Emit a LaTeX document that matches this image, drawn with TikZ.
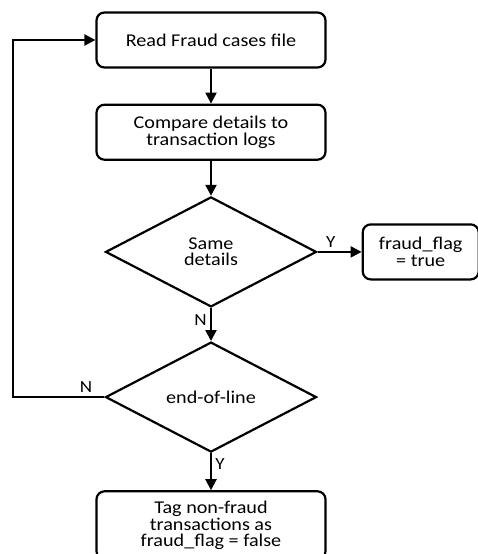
\documentclass[tikz,border=0pt]{standalone}
\usepackage{fontspec}
\setmainfont[FakeStretch=1.12]{Carlito}
\usetikzlibrary{positioning,shapes.geometric,arrows.meta}
\tikzset{main node/.style={rectangle,rounded corners=8pt,draw,line width=2.2pt,minimum width=229pt,minimum height=55pt,align=center,inner sep=2pt,font=\fontsize{18}{16.5}\selectfont},
         test node/.style={diamond,draw,line width=2.2pt,minimum width=211pt,minimum height=110pt,inner sep=0pt,align=center,font=\fontsize{18}{16.5}\selectfont},
         flow/.style={draw,line width=2.2pt,-{Triangle[length=11pt,width=11pt]}},
         lbl/.style={font=\fontsize{17}{17}\selectfont}}

\begin{document}
\begin{tikzpicture}[x=1pt,y=1pt]
            \useasboundingbox (0,0) rectangle (478,-554);
            \node[main node] (A) at (211,-40) {Read Fraud cases file};
            \node[main node] (B) [below = 35pt of A] {Compare details to\\transaction logs};
            \node[test node] (C) [below = 35pt of B] {Same\\details};
            \node[main node, minimum width=116pt] (D) [right = 44pt of C] {fraud\_flag\\= true};
            \node[test node] (E) [below = 33pt of C] {end-of-line};
            \node[main node, minimum height=68pt] (F) [below = 37pt of E] {Tag non-fraud\\transactions as\\fraud\_flag = false};
            \coordinate (L) at (13,0 |- E);

            \path[flow]
            (A) edge (B)
            (B) edge (C)
            (C) edge node[lbl,above,pos=0.3] {Y} (D)
            (C) edge node[lbl,left,pos=0.35] {N} (E)
            (E) edge node[lbl,right,pos=0.3] {Y} (F);
            \draw[flow] (E.west) -- node[lbl,above,pos=0.2] {N} (L) |- (A);
        \end{tikzpicture}
\end{document}
